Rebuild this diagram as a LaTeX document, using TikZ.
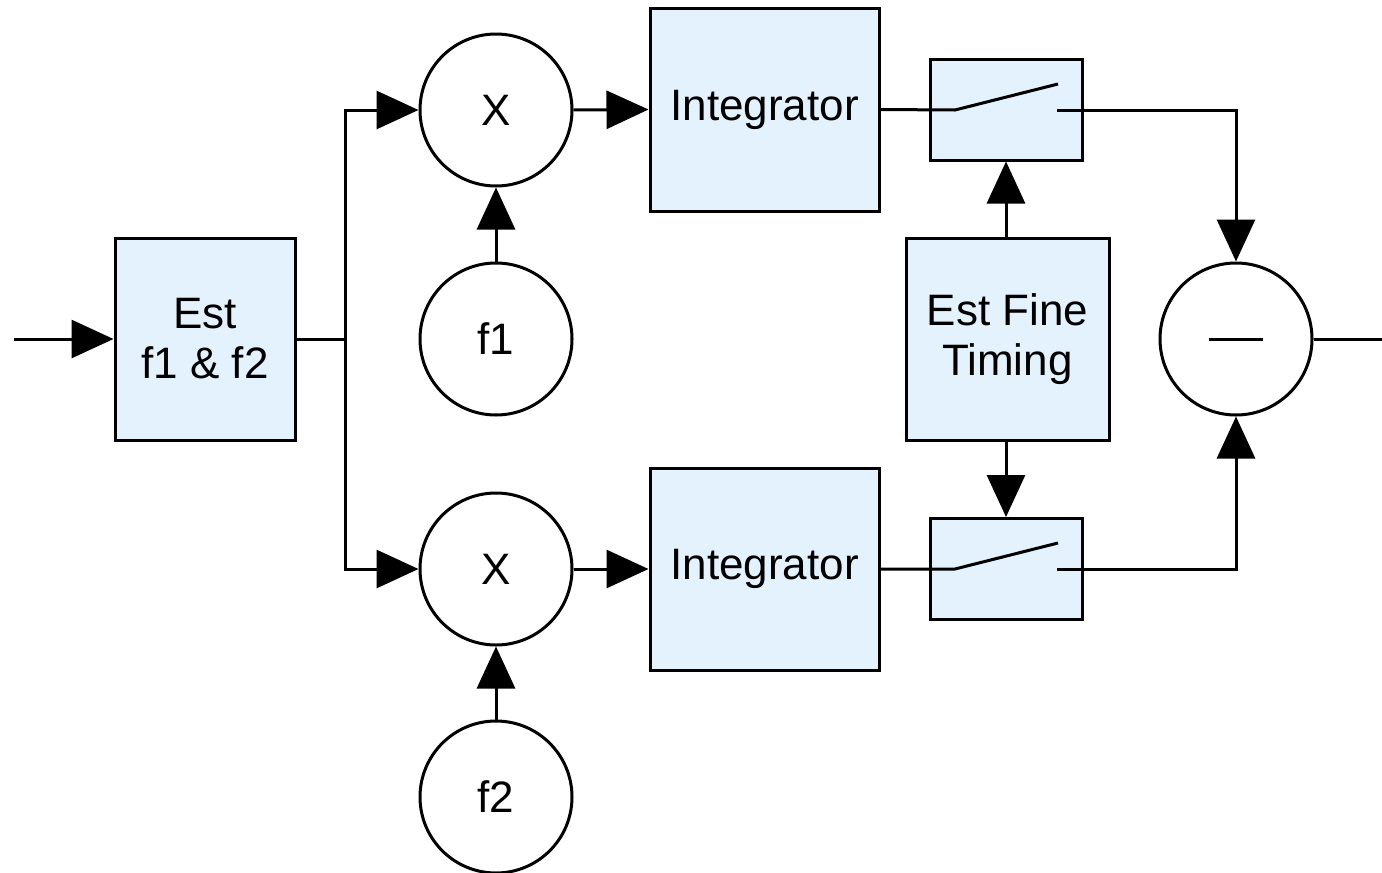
\documentclass[tikz,border=0pt]{standalone}
\usepackage{fontspec}
\setmainfont{Liberation Sans}
\usetikzlibrary{arrows.meta}
\definecolor{boxfill}{RGB}{228,242,254}
\tikzset{
  wire/.style={line width=1.5pt},
  flow/.style={wire,-{Triangle[length=21pt,width=19pt]}},
  block/.style={draw,line width=1.5pt,fill=boxfill,inner sep=0pt,align=center,
    font=\fontsize{22}{25}\selectfont},
  op/.style={draw,circle,line width=1.5pt,fill=white,inner sep=0pt,minimum size=76pt,
    font=\fontsize{22}{25}\selectfont},
}
\begin{document}
\begin{tikzpicture}[x=0.5pt,y=-0.5pt]
\useasboundingbox (0,0) rectangle (1382,873);

% blocks
\node[block,minimum width=90pt,minimum height=101pt] (est) at (205,339) {Est\\f1 \& f2};
\node[block,minimum width=114.5pt,minimum height=101.5pt] (int1) at (764.5,109.5) {\raisebox{-2pt}{Integrator}};
\node[block,minimum width=114.5pt,minimum height=101pt] (int2) at (764.5,569) {\raisebox{-2pt}{Integrator}};
\node[block,minimum width=101.5pt,minimum height=101pt] (fine) at (1007.5,339) {Est Fine\\Timing};
\node[block,minimum width=76pt,minimum height=50.5pt] (sw1) at (1006,109.5) {};
\node[block,minimum width=76pt,minimum height=50.5pt] (sw2) at (1006,569) {};

% mixers, oscillators and subtractor
\node[op] (mul1) at (496,110) {X};
\node[op] (mul2) at (496,569) {X};
\node[op] (f1) at (496,339) {f1};
\node[op] (f2) at (496,797) {f2};
\node[op] (sub) at (1236,339) {};
\draw[wire] ([xshift=-13.5pt]sub.center) -- ([xshift=13.5pt]sub.center);

% free ends and junctions
\coordinate (in) at (14,339);
\coordinate (out) at (1382,339);
\coordinate (split) at (345,339);
\coordinate (s1a) at (955,110);
\coordinate (s1b) at (1058,84);
\coordinate (s1c) at (1057,110);
\coordinate (s2a) at (955,569);
\coordinate (s2b) at (1058,543);
\coordinate (s2c) at (1057,569);

% signal path
\draw[flow] (in) -- (est.west);
\draw[wire] (est.east) -- (split);
\draw[flow] (split) |- (mul1.west);
\draw[flow] (split) |- (mul2.west);
\draw[flow] (f1.north) -- (mul1.south);
\draw[flow] (f2.north) -- (mul2.south);
\draw[flow] (mul1.east) -- (int1.west);
\draw[flow] (mul2.east) -- (int2.west);

% switches
\draw[wire] (int1.east) -- (s1a) -- (s1b);
\draw[wire] (int2.east) -- (s2a) -- (s2b);
\draw[flow] (s1c) -| (sub.north);
\draw[flow] (s2c) -| (sub.south);
\draw[flow] (fine.north -| sw1.south) -- (sw1.south);
\draw[flow] (fine.south -| sw2.north) -- (sw2.north);

\draw[wire] (sub.east) -- (out);
\end{tikzpicture}
\end{document}
